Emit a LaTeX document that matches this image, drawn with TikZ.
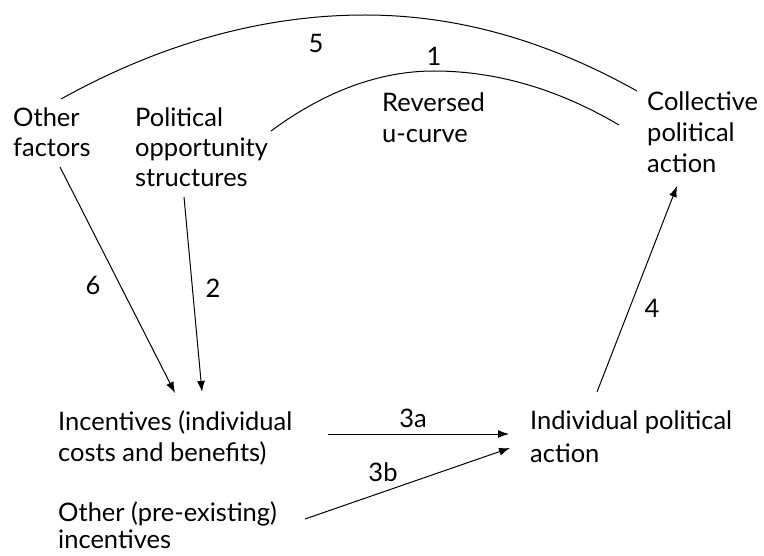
\documentclass[tikz,border=0pt]{standalone}
\usepackage{fontspec}
\setmainfont{Lato}
\usetikzlibrary{arrows.meta}
\begin{document}
\begin{tikzpicture}[x=1pt,y=-1pt,
  lbl/.style={anchor=base west,inner sep=0pt,align=left,font=\fontsize{25.5}{31}\selectfont},
  num/.style={inner sep=0pt,font=\fontsize{25.5}{31}\selectfont},
  conn/.style={line width=1pt},
  arr/.style={conn,-{Latex[length=11pt,width=8pt]}}]
\useasboundingbox (0,0) rectangle (764,556);
% text nodes (anchored at the baseline of their last line)
\node[lbl] (of)  at (13,157)  {Other\\[-1pt]factors};
\node[lbl] (pos) at (135,187) {Political\\[-1pt]opportunity\\[-1pt]structures};
\node[lbl] (ruc) at (382,143) {Reversed\\u-curve};
\node[lbl] (cpa) at (647,173) {Collective\\political\\action};
\node[lbl] (inc) at (58,461)  {Incentives (individual\\costs and benefits)};
\node[lbl] (oth) at (58,548)  {Other (pre-existing)\\[-4pt]incentives};
\node[lbl] (ipa) at (530,462) {Individual political\\[2pt]action};
% connector end points
\coordinate (a5s) at (61,99);
\coordinate (a5p) at (365,15);
\coordinate (a5e) at (637,91);
\coordinate (a1s) at (271,131);
\coordinate (a1p) at (434,71);
\coordinate (a1e) at (619,125);
\coordinate (e6s) at (60,167);
\coordinate (e6e) at (175,393);
\coordinate (e2s) at (184,197);
\coordinate (e2e) at (202,392);
\coordinate (e3as) at (328,434);
\coordinate (e3ae) at (509,434);
\coordinate (e3bs) at (305,519);
\coordinate (e3be) at (510,448);
\coordinate (e4s) at (597,392);
\coordinate (e4e) at (677,186);
% connectors
\draw[conn] (a5s) .. controls (162,43) and (264,15) .. (a5p)
            .. controls (456,15) and (546,40) .. (a5e);
\draw[conn] (a1s) .. controls (325,91) and (380,71) .. (a1p)
            .. controls (496,71) and (558,89) .. (a1e);
\draw[arr] (e6s) -- (e6e);
\draw[arr] (e2s) -- (e2e);
\draw[arr] (e3as) -- (e3ae);
\draw[arr] (e3bs) -- (e3be);
\draw[arr] (e4s) -- (e4e);
% labels
\node[num] (l5)  at (316,43)  {5};
\node[num] (l1)  at (434,56)  {1};
\node[num] (l6)  at (93,285)  {6};
\node[num] (l2)  at (213,288) {2};
\node[num] (l3a) at (413,418) {3a};
\node[num] (l3b) at (383,472) {3b};
\node[num] (l4)  at (652,308) {4};
\end{tikzpicture}
\end{document}
